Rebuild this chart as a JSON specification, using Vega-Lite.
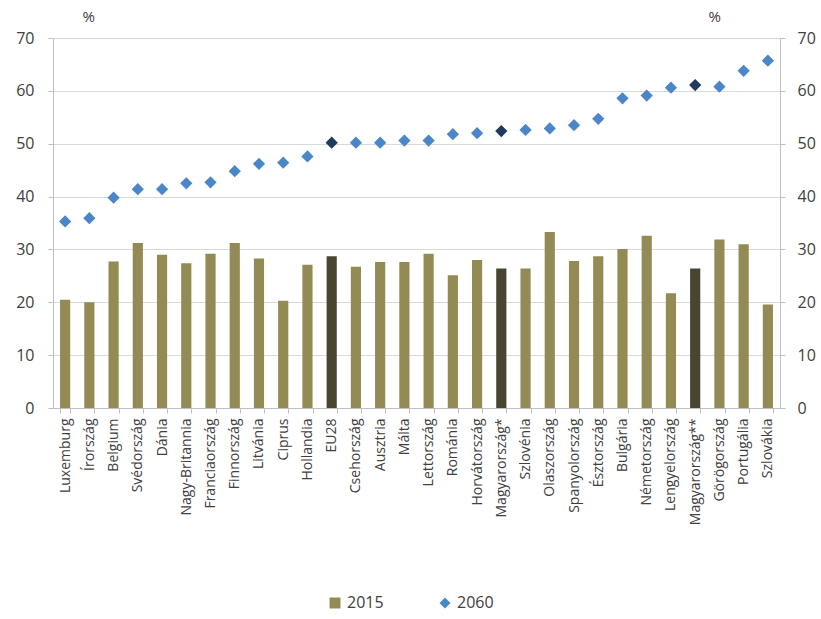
{
  "$schema": "https://vega.github.io/schema/vega-lite/v6.json",
  "width": 727,
  "height": 370,
  "autosize": {"type": "none"},
  "padding": {"left": 53, "top": 38, "right": 41, "bottom": 211},
  "background": "white",
  "config": {
    "font": "Open Sans",
    "view": {"stroke": null},
    "axis": {"labelColor": "#404040", "titleColor": "#404040", "domainColor": "#bfbfbf", "tickColor": "#bfbfbf", "gridColor": "#d9d9d9"}
  },
  "data": {"values": [
    {"name": "Luxemburg", "v2015": 20.5, "v2060": 35.3, "hl": false},
    {"name": "Írország", "v2015": 20.0, "v2060": 35.9, "hl": false},
    {"name": "Belgium", "v2015": 27.7, "v2060": 39.8, "hl": false},
    {"name": "Svédország", "v2015": 31.2, "v2060": 41.4, "hl": false},
    {"name": "Dánia", "v2015": 29.0, "v2060": 41.4, "hl": false},
    {"name": "Nagy-Britannia", "v2015": 27.4, "v2060": 42.5, "hl": false},
    {"name": "Franciaország", "v2015": 29.2, "v2060": 42.7, "hl": false},
    {"name": "Finnország", "v2015": 31.2, "v2060": 44.8, "hl": false},
    {"name": "Litvánia", "v2015": 28.3, "v2060": 46.2, "hl": false},
    {"name": "Ciprus", "v2015": 20.3, "v2060": 46.4, "hl": false},
    {"name": "Hollandia", "v2015": 27.1, "v2060": 47.6, "hl": false},
    {"name": "EU28", "v2015": 28.7, "v2060": 50.2, "hl": true},
    {"name": "Csehország", "v2015": 26.7, "v2060": 50.2, "hl": false},
    {"name": "Ausztria", "v2015": 27.6, "v2060": 50.2, "hl": false},
    {"name": "Málta", "v2015": 27.6, "v2060": 50.6, "hl": false},
    {"name": "Lettország", "v2015": 29.2, "v2060": 50.6, "hl": false},
    {"name": "Románia", "v2015": 25.1, "v2060": 51.8, "hl": false},
    {"name": "Horvátország", "v2015": 28.0, "v2060": 52.0, "hl": false},
    {"name": "Magyarország*", "v2015": 26.4, "v2060": 52.4, "hl": true},
    {"name": "Szlovénia", "v2015": 26.4, "v2060": 52.6, "hl": false},
    {"name": "Olaszország", "v2015": 33.3, "v2060": 52.9, "hl": false},
    {"name": "Spanyolország", "v2015": 27.8, "v2060": 53.5, "hl": false},
    {"name": "Észtország", "v2015": 28.7, "v2060": 54.7, "hl": false},
    {"name": "Bulgária", "v2015": 30.1, "v2060": 58.6, "hl": false},
    {"name": "Németország", "v2015": 32.6, "v2060": 59.1, "hl": false},
    {"name": "Lengyelország", "v2015": 21.7, "v2060": 60.6, "hl": false},
    {"name": "Magyarország**", "v2015": 26.4, "v2060": 61.1, "hl": true},
    {"name": "Görögország", "v2015": 31.9, "v2060": 60.8, "hl": false},
    {"name": "Portugália", "v2015": 31.0, "v2060": 63.8, "hl": false},
    {"name": "Szlovákia", "v2015": 19.6, "v2060": 65.7, "hl": false}
  ]},
  "encoding": {
    "x": {
      "field": "name", "type": "nominal", "sort": null,
      "scale": {"paddingInner": 0.58, "paddingOuter": 0.29},
      "axis": {"title": null, "labelAngle": -90, "labelFontSize": 14, "labelPadding": 5, "tickBand": "extent", "tickSize": 5, "domainColor": "#bfbfbf", "grid": false, "labelOverlap": false}
    }
  },
  "layer": [
    {
      "mark": {"type": "bar"},
      "encoding": {
        "y": {
          "field": "v2015", "type": "quantitative",
          "scale": {"domain": [0, 70], "nice": false},
          "axis": {"title": "%", "titleAngle": 0, "titleAlign": "left", "titleBaseline": "bottom", "titleX": 29, "titleY": -14, "titleFontSize": 15, "titleFontWeight": "normal", "values": [0, 10, 20, 30, 40, 50, 60, 70], "labelFontSize": 16, "labelPadding": 14, "labelOverlap": false, "tickSize": 5, "grid": true, "domain": true}
        },
        "fill": {
          "datum": "2015",
          "condition": {"test": "datum.hl", "value": "#4a4530"},
          "scale": {"domain": ["2015"], "range": ["#948a54"]},
          "legend": {"title": null, "orient": "none", "legendX": 274, "legendY": 557, "symbolType": "square", "symbolSize": 120, "labelFontSize": 16, "labelColor": "#404040", "symbolStrokeWidth": 0}
        }
      }
    },
    {
      "mark": {"type": "point", "filled": true, "size": 150, "opacity": 1},
      "encoding": {
        "y": {
          "field": "v2060", "type": "quantitative",
          "scale": {"domain": [0, 70], "nice": false},
          "axis": {"orient": "right", "title": "%", "titleAngle": 0, "titleAlign": "left", "titleBaseline": "bottom", "titleX": -72, "titleY": -14, "titleFontSize": 15, "titleFontWeight": "normal", "values": [0, 10, 20, 30, 40, 50, 60, 70], "labelFontSize": 16, "labelPadding": 12, "labelOverlap": false, "tickSize": 5, "grid": false, "domain": true}
        },
        "shape": {
          "datum": "2060",
          "scale": {"domain": ["2060"], "range": ["diamond"]},
          "legend": {"title": null, "orient": "none", "legendX": 384, "legendY": 557, "symbolSize": 120, "symbolFillColor": "#4a86c8", "symbolStrokeWidth": 0, "labelFontSize": 16, "labelColor": "#404040"}
        },
        "color": {
          "condition": {"test": "datum.hl", "value": "#1f3a5f"},
          "value": "#4a86c8"
        }
      }
    }
  ],
  "resolve": {"scale": {"y": "independent"}}
}
